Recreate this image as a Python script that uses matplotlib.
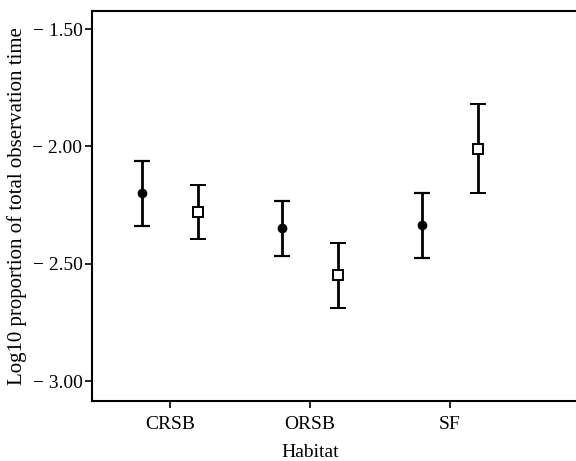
import numpy as np
import matplotlib.pyplot as plt

plt.rcParams['font.family'] = ['Liberation Serif', 'DejaVu Serif']

# Data
habitats = ['CRSB', 'ORSB', 'SF']
mean_a = [-2.200, -2.349, -2.336]      # filled circles
low_a = [-2.339, -2.467, -2.476]
high_a = [-2.061, -2.231, -2.200]
mean_b = [-2.279, -2.548, -2.011]      # open squares
low_b = [-2.393, -2.688, -2.197]
high_b = [-2.164, -2.410, -1.820]
yticks = [-1.50, -2.00, -2.50, -3.00]

x = np.arange(1, len(habitats) + 1)
mean_a = np.array(mean_a)
mean_b = np.array(mean_b)
err_a = [mean_a - np.array(low_a), np.array(high_a) - mean_a]
err_b = [mean_b - np.array(low_b), np.array(high_b) - mean_b]

fig = plt.figure(figsize=(5.76, 4.61), dpi=100)
ax = fig.add_axes([0.16, 0.13, 0.84, 0.846])

ax.errorbar(x - 0.2, mean_a, yerr=err_a, fmt='o', color='black', ms=6,
            elinewidth=2, capsize=6, capthick=1.6)
ax.errorbar(x + 0.2, mean_b, yerr=err_b, fmt='s', color='black', mfc='white',
            mec='black', mew=1.4, ms=6.5, elinewidth=2, capsize=6, capthick=1.6)

ax.set_xlim(0.443, 3.9)
ax.set_ylim(-3.085, -1.423)
ax.set_xticks(x)
ax.set_xticklabels(habitats)
ax.set_yticks(yticks)
ax.set_yticklabels(['\u2212 1.50', '\u2212 2.00', '\u2212 2.50', '\u2212 3.00'])
ax.tick_params(labelsize=14, width=1.2, length=5, direction='out')
ax.tick_params(axis='y', pad=2)
ax.tick_params(axis='x', pad=6)
ax.set_xlabel('Habitat', fontsize=14, labelpad=2)
ax.xaxis.set_label_coords((2 - 0.443) / (3.9 - 0.443), -0.11)
ax.set_ylabel('Log10 proportion of total observation time', fontsize=15, labelpad=4)

for s in ['left', 'bottom', 'top']:
    ax.spines[s].set_linewidth(1.5)
ax.spines['right'].set_visible(False)

fig.savefig('out.png', dpi=100)
